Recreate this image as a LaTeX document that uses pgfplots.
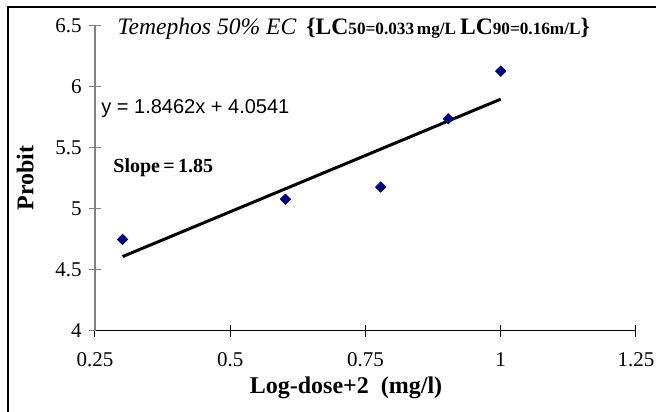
\documentclass[border=0pt]{standalone}
\usepackage{pgfplots}
\pgfplotsset{compat=1.18}
\usepackage{fontspec}
\setmainfont{Liberation Serif}
\newfontfamily\arialfont{Liberation Sans}
\definecolor{navy}{HTML}{000080}
\definecolor{axgray}{HTML}{808080}

\begin{document}
\begin{tikzpicture}
\begin{axis}[
    scale only axis,
    width=270.5pt, height=152.5pt,
    xmin=0.25, xmax=1.25, ymin=4, ymax=6.5,
    xtick={0.25,0.5,0.75,1,1.25},
    ytick={4,4.5,5,5.5,6,6.5},
    axis x line=bottom, axis y line=left,
    x axis line style={-, black, line width=0.5pt},
    y axis line style={-, axgray, line width=0.8pt},
    tick align=center,
    major tick length=6pt,
    xtick style={black, line width=0.5pt},
    ytick style={axgray, line width=0.5pt},
    /pgf/number format/assume math mode=true,
    ticklabel style={font=\fontsize{10.5}{12}\selectfont, inner sep=0pt},
    xticklabel style={anchor=center, yshift=-11.5pt},
    yticklabel style={anchor=east, xshift=-3.5pt},
    xlabel={Log-dose+2\ \ (mg/l)},
    ylabel={Probit},
    label style={font=\fontsize{12}{14}\selectfont\bfseries},
    xlabel style={at={(rel axis cs:0.464,-0.188)}, anchor=center},
    ylabel style={at={(rel axis cs:-0.129,0.502)}, anchor=center},
    clip=false,
]
% observed probits
\addplot[only marks, mark=square*, mark size=1.8pt,
         mark options={rotate=45, fill=navy, draw=navy}]
    coordinates {(0.301,4.75) (0.602,5.08) (0.778,5.18) (0.903,5.74) (1.0,6.13)};
% linear trendline y = 1.8462x + 4.0541
\addplot[black, line width=1.5pt, no marks]
    coordinates {(0.301,4.6098) (1.0,5.9003)};

\node[anchor=base west, inner sep=0pt] at (rel axis cs:0.041,0.972)
    {{\fontsize{11.8}{14}\selectfont\itshape Temephos 50\% EC}\ \ {\bfseries\fontsize{11.8}{14}\selectfont\{LC{\fontsize{8.6}{10}\selectfont 50=0.033\,mg/L}\,LC{\fontsize{8.6}{10}\selectfont 90=0.16m/L}\}}};
\node[anchor=base west, inner sep=0pt, font=\arialfont\fontsize{10}{12}\selectfont]
    at (rel axis cs:0.0111,0.7115) {y = 1.8462x + 4.0541};
\node[anchor=base west, inner sep=0pt, font=\fontsize{10}{12}\selectfont\bfseries]
    at (rel axis cs:0.0333,0.521) {Slope\,=\,1.85};

\draw[line width=1pt] (rel axis cs:-0.1608,-0.2656) -- (rel axis cs:-0.1608,1.0623) -- (rel axis cs:1.037,1.0623);
\coordinate (bl) at (rel axis cs:-0.1756,-0.2656);
\coordinate (tr) at (rel axis cs:1.037,1.0852);
\end{axis}
\pgfresetboundingbox
\path (bl) rectangle (tr);
\end{tikzpicture}
\end{document}
